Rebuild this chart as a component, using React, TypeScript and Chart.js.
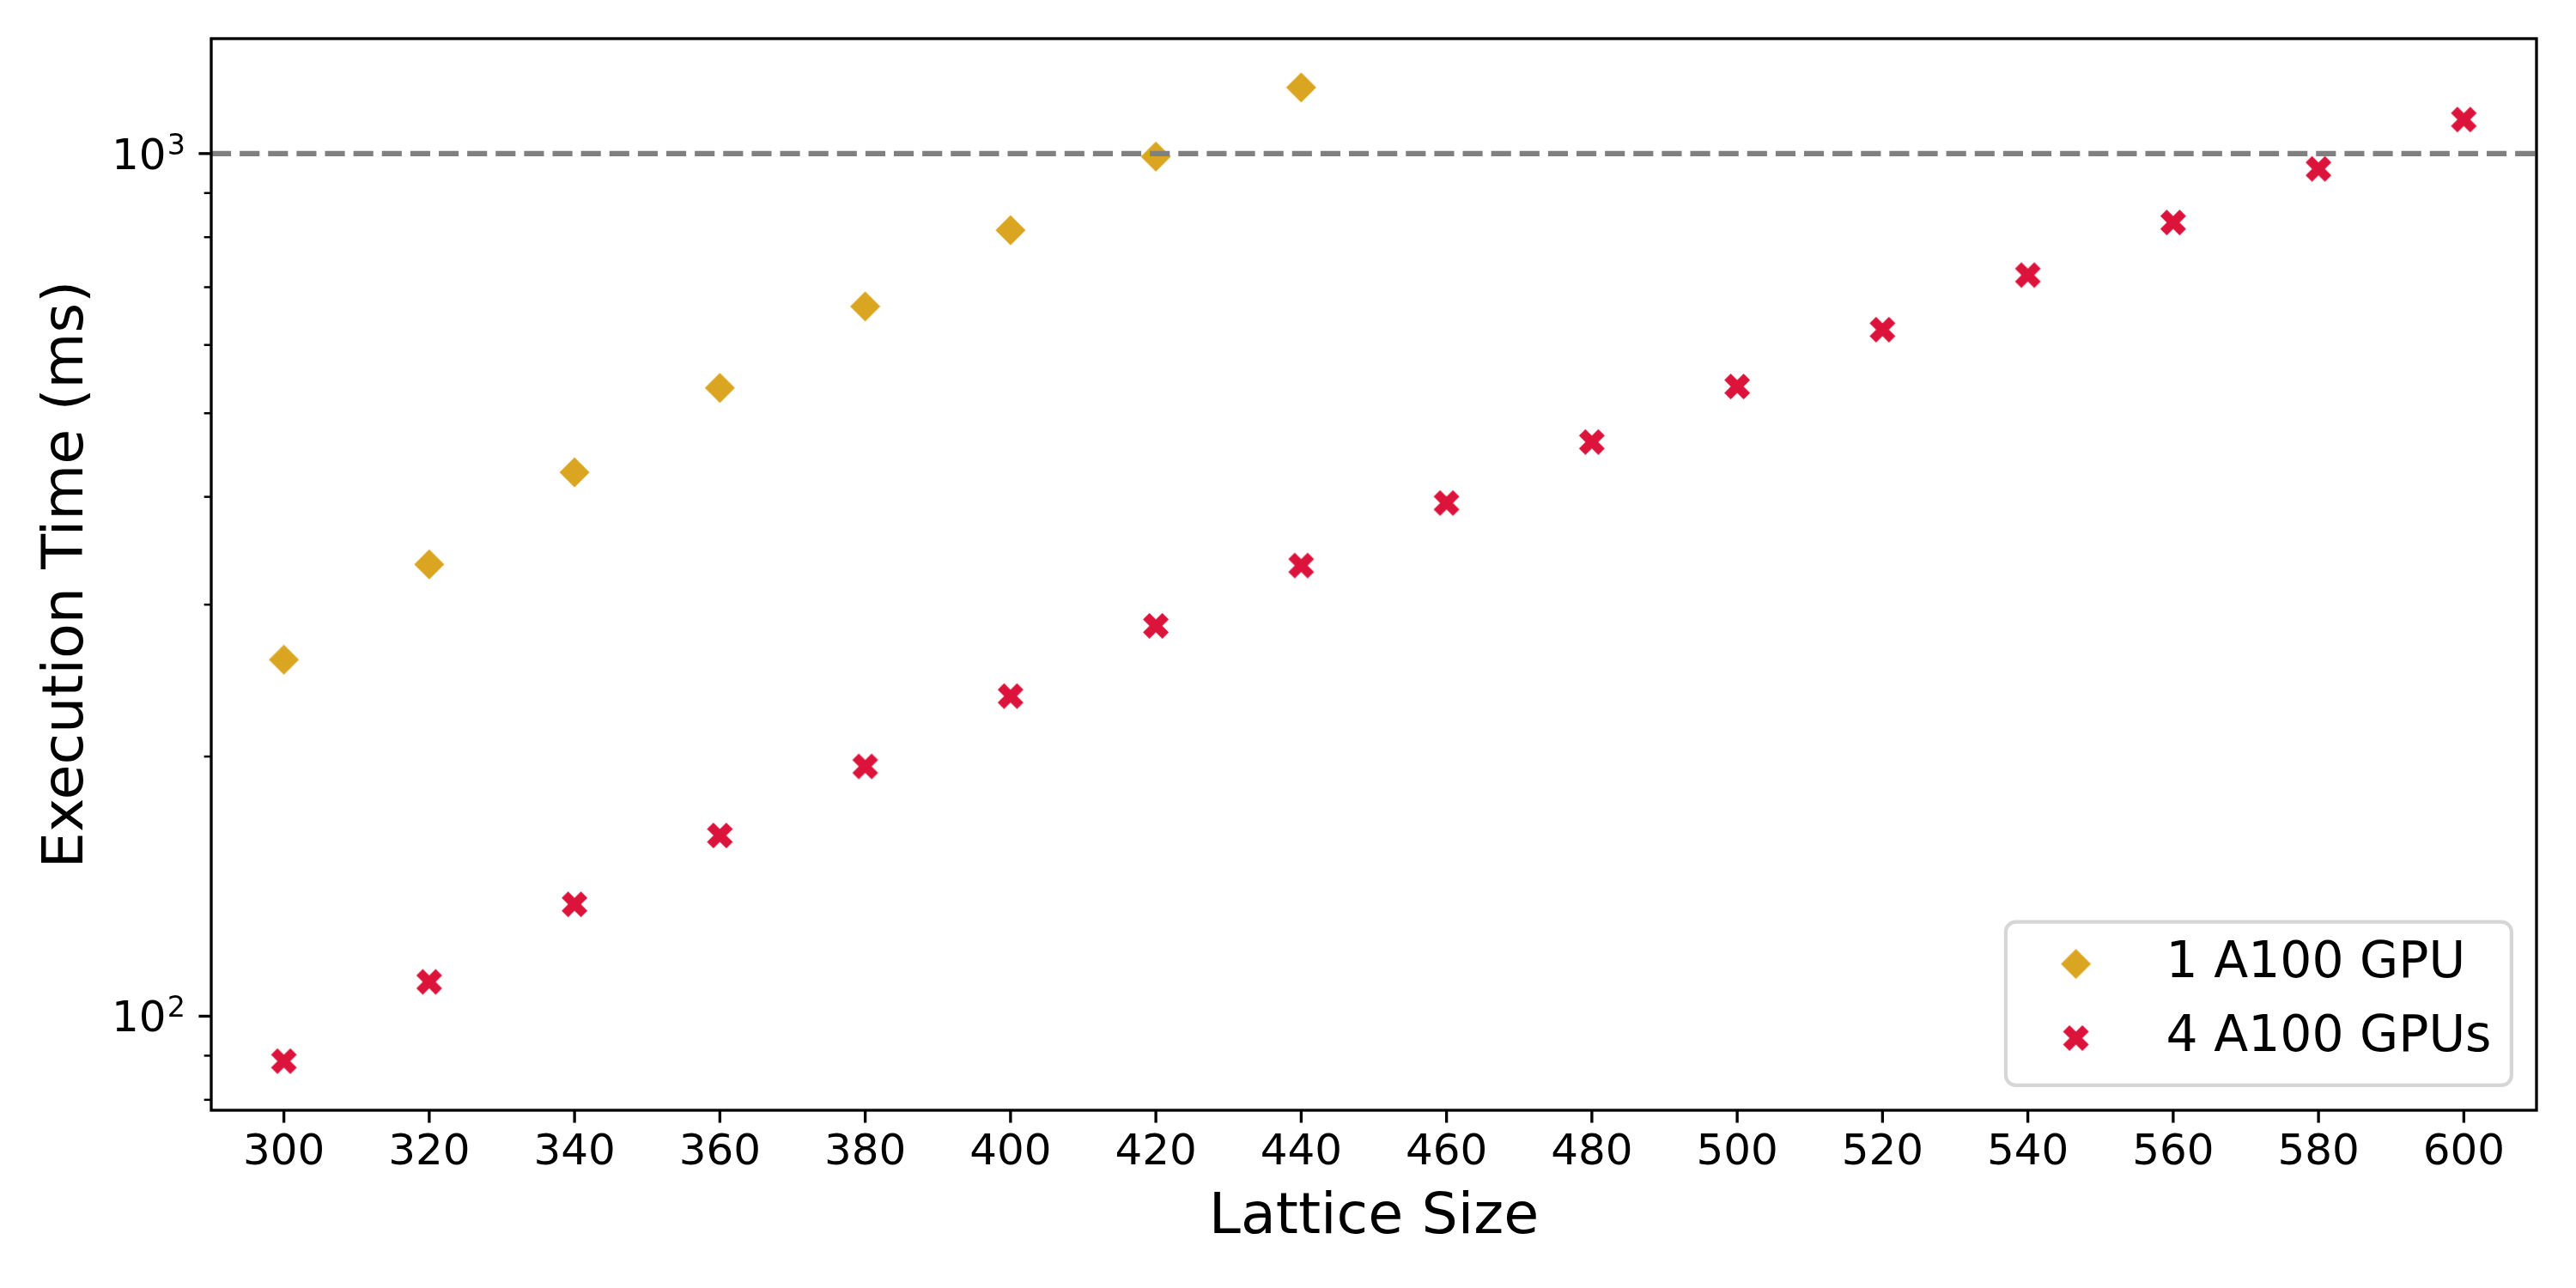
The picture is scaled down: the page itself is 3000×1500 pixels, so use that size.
import React, { useEffect, useRef } from 'react';
import { Chart, registerables } from 'chart.js';

Chart.register(...registerables);

// ---- data ----
const latticeSizesOneGpu = [300, 320, 340, 360, 380, 400, 420, 440];
const timesOneGpu = [259, 334, 427, 535, 665, 815, 992, 1193];

const latticeSizesFourGpu = [300, 320, 340, 360, 380, 400, 420, 440, 460, 480, 500, 520, 540, 560, 580, 600];
const timesFourGpu = [88.7, 109.6, 134.8, 162, 194.8, 235, 283.5, 333, 393.5, 463, 537, 625, 723, 832, 960, 1095];

const seriesLabels = ['1 A100 GPU', '4 A100 GPUs'];
const xTickValues = [300, 320, 340, 360, 380, 400, 420, 440, 460, 480, 500, 520, 540, 560, 580, 600];
const yMajorTicks = [100, 1000];
const yMinorTicks = [80, 90, 200, 300, 400, 500, 600, 700, 800, 900];
const thresholdMs = 1000;
const xLimits = [290, 610];
const yLimits = [77.8, 1359];

const GOLD = '#DAA520';
const CRIMSON = '#DC143C';
const FONT = '"DejaVu Sans", sans-serif';
const PT = 300 / 72;

function makeDiamond(): HTMLCanvasElement {
  const c = document.createElement('canvas');
  c.width = 36;
  c.height = 36;
  const g = c.getContext('2d')!;
  g.fillStyle = GOLD;
  g.beginPath();
  g.moveTo(18, 0.5);
  g.lineTo(35.5, 18);
  g.lineTo(18, 35.5);
  g.lineTo(0.5, 18);
  g.closePath();
  g.fill();
  return c;
}

function makeX(): HTMLCanvasElement {
  const c = document.createElement('canvas');
  c.width = 32;
  c.height = 32;
  const g = c.getContext('2d')!;
  const u = 30 / 4;
  const pts = [[-1, -2], [0, -1], [1, -2], [2, -1], [1, 0], [2, 1], [1, 2], [0, 1], [-1, 2], [-2, 1], [-1, 0], [-2, -1]];
  g.fillStyle = CRIMSON;
  g.beginPath();
  pts.forEach(([px, py], i) => {
    const X = 16 + px * u;
    const Y = 16 + py * u;
    if (i === 0) g.moveTo(X, Y);
    else g.lineTo(X, Y);
  });
  g.closePath();
  g.fill();
  return c;
}

export default function App() {
  const ref = useRef<HTMLCanvasElement | null>(null);

  useEffect(() => {
    if (!ref.current) return;
    const diamond = makeDiamond();
    const xMark = makeX();
    const markers = [diamond, xMark];

    const decorPlugin = {
      id: 'decor',
      afterDatasetsDraw(chart: any) {
        const { ctx, chartArea } = chart;
        const xs = chart.scales.x;
        const ys = chart.scales.y;
        const { left, right, top, bottom } = chartArea;
        ctx.save();

        // threshold dashed line
        const ty = ys.getPixelForValue(thresholdMs);
        ctx.strokeStyle = '#808080';
        ctx.lineWidth = 1.5 * PT;
        ctx.setLineDash([3.7 * 1.5 * PT, 1.6 * 1.5 * PT]);
        ctx.lineCap = 'butt';
        ctx.beginPath();
        ctx.moveTo(left, ty);
        ctx.lineTo(right, ty);
        ctx.stroke();
        ctx.setLineDash([]);

        // frame
        ctx.strokeStyle = '#000';
        ctx.lineWidth = 0.8 * PT;
        ctx.strokeRect(left, top, right - left, bottom - top);

        // x ticks
        ctx.lineWidth = 0.8 * PT;
        xTickValues.forEach((v) => {
          const px = xs.getPixelForValue(v);
          ctx.beginPath();
          ctx.moveTo(px, bottom);
          ctx.lineTo(px, bottom + 3.5 * PT);
          ctx.stroke();
        });
        // y major ticks
        yMajorTicks.forEach((v) => {
          const py = ys.getPixelForValue(v);
          ctx.beginPath();
          ctx.moveTo(left, py);
          ctx.lineTo(left - 3.5 * PT, py);
          ctx.stroke();
        });
        // y minor ticks
        ctx.lineWidth = 0.6 * PT;
        yMinorTicks.forEach((v) => {
          const py = ys.getPixelForValue(v);
          ctx.beginPath();
          ctx.moveTo(left, py);
          ctx.lineTo(left - 2 * PT, py);
          ctx.stroke();
        });

        // y major labels as 10^n
        ctx.fillStyle = '#000';
        ctx.textBaseline = 'alphabetic';
        ctx.textAlign = 'left';
        yMajorTicks.forEach((v) => {
          const py = ys.getPixelForValue(v);
          const exp = String(Math.round(Math.log10(v)));
          ctx.font = `${12 * PT}px ${FONT}`;
          const wBase = ctx.measureText('10').width;
          ctx.font = `${8 * PT}px ${FONT}`;
          const wExp = ctx.measureText(exp).width;
          const rightEdge = left - 7 * PT - 1;
          const xExp = rightEdge - wExp;
          const xBase = xExp - wBase - 1;
          ctx.font = `${12 * PT}px ${FONT}`;
          ctx.fillText('10', xBase, py + 18);
          ctx.font = `${8 * PT}px ${FONT}`;
          ctx.fillText(exp, xExp, py + 1);
        });

        // legend
        const fs = 14 * PT;
        const bp = 0.4 * fs;
        const hl = 2 * fs;
        const htp = 0.8 * fs;
        const ls = 0.5 * fs;
        const rowH = 0.98 * fs;
        ctx.font = `${fs}px ${FONT}`;
        const maxW = Math.max(...seriesLabels.map((s) => ctx.measureText(s).width));
        const boxW = 2 * bp + hl + htp + maxW;
        const boxH = 2 * bp + seriesLabels.length * rowH + (seriesLabels.length - 1) * ls;
        const bx = right - 0.5 * fs - boxW;
        const by = bottom - 0.5 * fs - boxH;
        const r = 0.2 * fs;
        ctx.beginPath();
        ctx.moveTo(bx + r, by);
        ctx.lineTo(bx + boxW - r, by);
        ctx.arcTo(bx + boxW, by, bx + boxW, by + r, r);
        ctx.lineTo(bx + boxW, by + boxH - r);
        ctx.arcTo(bx + boxW, by + boxH, bx + boxW - r, by + boxH, r);
        ctx.lineTo(bx + r, by + boxH);
        ctx.arcTo(bx, by + boxH, bx, by + boxH - r, r);
        ctx.lineTo(bx, by + r);
        ctx.arcTo(bx, by, bx + r, by, r);
        ctx.closePath();
        ctx.fillStyle = 'rgba(255,255,255,0.8)';
        ctx.fill();
        ctx.strokeStyle = 'rgba(204,204,204,0.8)';
        ctx.lineWidth = 1 * PT;
        ctx.stroke();

        seriesLabels.forEach((lab, i) => {
          const cy = by + bp + i * (rowH + ls) + rowH / 2 - 3;
          const mx = bx + bp + hl / 2;
          const m = markers[i];
          ctx.drawImage(m, mx - m.width / 2, cy - m.height / 2);
          ctx.fillStyle = '#000';
          ctx.textBaseline = 'middle';
          ctx.textAlign = 'left';
          ctx.font = `${fs}px ${FONT}`;
          ctx.fillText(lab, bx + bp + hl + htp, cy);
        });

        ctx.restore();
      },
    };

    const chart = new Chart(ref.current, {
      type: 'scatter',
      data: {
        datasets: [
          {
            label: seriesLabels[0],
            data: latticeSizesOneGpu.map((x, i) => ({ x, y: timesOneGpu[i] })),
            pointStyle: diamond as any,
            backgroundColor: GOLD,
            borderColor: GOLD,
            pointRadius: 17,
          },
          {
            label: seriesLabels[1],
            data: latticeSizesFourGpu.map((x, i) => ({ x, y: timesFourGpu[i] })),
            pointStyle: xMark as any,
            backgroundColor: CRIMSON,
            borderColor: CRIMSON,
            pointRadius: 15,
          },
        ],
      },
      options: {
        responsive: false,
        animation: false,
        devicePixelRatio: 1,
        layout: { padding: { top: 45, right: 46, left: 0, bottom: 0 } },
        plugins: {
          legend: { display: false },
          tooltip: { enabled: false },
        },
        scales: {
          x: {
            type: 'linear',
            min: xLimits[0],
            max: xLimits[1],
            afterBuildTicks: (s: any) => {
              s.ticks = xTickValues.map((v) => ({ value: v }));
            },
            afterFit: (s: any) => {
              s.height = 207;
            },
            grid: { display: false, drawTicks: false },
            border: { display: false },
            ticks: {
              font: { family: FONT, size: 12 * PT },
              color: '#000',
              padding: 20,
              maxRotation: 0,
              autoSkip: false,
              callback: (v: any) => String(v),
            },
            title: {
              display: true,
              text: 'Lattice Size',
              font: { family: FONT, size: 16 * PT },
              color: '#000',
              padding: { top: 0, bottom: 41 },
            },
          },
          y: {
            type: 'logarithmic',
            min: yLimits[0],
            max: yLimits[1],
            afterBuildTicks: (s: any) => {
              s.ticks = [...yMinorTicks, ...yMajorTicks].sort((a, b) => a - b).map((v) => ({ value: v }));
            },
            afterFit: (s: any) => {
              s.width = 246;
            },
            grid: { display: false, drawTicks: false },
            border: { display: false },
            ticks: { display: false },
            title: {
              display: true,
              text: 'Execution Time (ms)',
              font: { family: FONT, size: 16 * PT },
              color: '#000',
              padding: { top: 39, bottom: 0 },
            },
          },
        },
      },
      plugins: [decorPlugin],
    } as any);

    return () => chart.destroy();
  }, []);

  return (
    <div style={{ position: 'absolute', left: 0, top: 0, width: 3000, height: 1500, background: '#fff' }}>
      <canvas ref={ref} width={3000} height={1500} style={{ width: 3000, height: 1500, display: 'block' }} />
    </div>
  );
}
